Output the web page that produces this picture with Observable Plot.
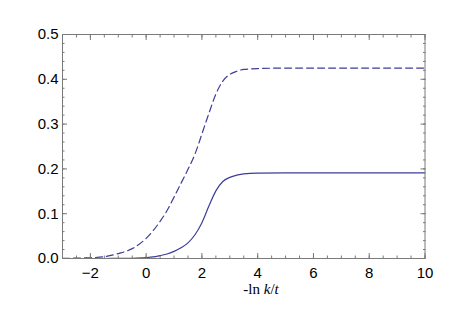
<!DOCTYPE html>
<html>
<head>
<meta charset="utf-8">
<script src="https://cdn.jsdelivr.net/npm/d3@7"></script>
<script src="https://cdn.jsdelivr.net/npm/@observablehq/plot@0.6"></script>
<style>
  html, body { margin: 0; padding: 0; background: #fff; }
  svg { display: block; }
</style>
</head>
<body>
<div id="chart"></div>
<script>
const xs      = [-3, -2.5, -2, -1.5, -1, -0.5, 0, 0.25, 0.5, 0.75, 1, 1.25, 1.5, 1.75, 2, 2.25, 2.5, 2.75, 3, 3.25, 3.5, 4, 5, 6, 7, 8, 9, 10];
const dashed  = [0.0003, 0.0008, 0.0017, 0.004, 0.011, 0.022, 0.045, 0.062, 0.083, 0.107, 0.137, 0.168, 0.199, 0.233, 0.278, 0.324, 0.367, 0.396, 0.411, 0.418, 0.422, 0.424, 0.425, 0.425, 0.425, 0.425, 0.425, 0.425];
const solid   = [0, 0, 0, 0, 0.0002, 0.0006, 0.002, 0.0035, 0.0065, 0.010, 0.016, 0.024, 0.035, 0.053, 0.080, 0.117, 0.151, 0.172, 0.181, 0.186, 0.189, 0.1905, 0.191, 0.191, 0.191, 0.191, 0.191, 0.191];
const xMajor  = [-2, 0, 2, 4, 6, 8, 10];
const xMinor  = d3.range(-3, 10.01, 0.5);
const yMajor  = [0, 0.1, 0.2, 0.3, 0.4, 0.5];
const yMinor  = d3.range(0, 0.501, 0.02);
const xLabel  = ["-ln ", "k", "/", "t"];

const dashedData = xs.map((x, i) => ({x, y: dashed[i]}));
const solidData  = xs.map((x, i) => ({x, y: solid[i]}));

const gray = "#7a7a7a";
const blue = "#3d3d99";
const W = 463, H = 314;

const chart = Plot.plot({
  width: W, height: H,
  marginLeft: 62, marginRight: 38.5, marginTop: 34, marginBottom: 56,
  style: {fontFamily: "Liberation Sans, Arial, sans-serif", fontSize: "15px", background: "#fff", color: "#000"},
  x: {domain: [-3, 10]},
  y: {domain: [0, 0.5]},
  marks: [
    Plot.line(dashedData, {x: "x", y: "y", stroke: blue, strokeWidth: 1.2, strokeDasharray: "7,4", curve: "monotone-x"}),
    Plot.line(solidData, {x: "x", y: "y", stroke: blue, strokeWidth: 1.2, curve: "monotone-x"}),
    Plot.frame({stroke: gray, strokeWidth: 1}),
    // labels
    Plot.axisX(xMajor, {anchor: "bottom", tickSize: 0, tickPadding: 9, label: null, tickFormat: d3.format("d"), fill: "#000"}),
    Plot.axisY(yMajor, {anchor: "left", tickSize: 0, tickPadding: 4, label: null, tickFormat: d3.format(".1f"), fill: "#000"}),
    // inward ticks
    Plot.axisX(xMajor, {anchor: "bottom", tickSize: 5, dy: -5, text: null, label: null, stroke: gray}),
    Plot.axisX(xMinor, {anchor: "bottom", tickSize: 2.5, dy: -2.5, text: null, label: null, stroke: gray}),
    Plot.axisX(xMajor, {anchor: "top", tickSize: 5, dy: 5, text: null, label: null, stroke: gray}),
    Plot.axisX(xMinor, {anchor: "top", tickSize: 2.5, dy: 2.5, text: null, label: null, stroke: gray}),
    Plot.axisY(yMajor, {anchor: "left", tickSize: 5, dx: 5, text: null, label: null, stroke: gray}),
    Plot.axisY(yMinor, {anchor: "left", tickSize: 2.5, dx: 2.5, text: null, label: null, stroke: gray}),
    Plot.axisY(yMajor, {anchor: "right", tickSize: 5, dx: -5, text: null, label: null, stroke: gray}),
    Plot.axisY(yMinor, {anchor: "right", tickSize: 2.5, dx: -2.5, text: null, label: null, stroke: gray})
  ]
});

document.getElementById("chart").appendChild(chart);

// x-axis title with italic k and t (sits slightly right of the frame centre, as in the original)
const t = d3.select(chart).append("text")
  .attr("x", 261)
  .attr("y", 294)
  .attr("text-anchor", "middle")
  .attr("font-family", "Liberation Serif, Times New Roman, serif")
  .attr("font-size", 15)
  .attr("fill", "#000");
xLabel.forEach((s, i) => {
  t.append("tspan").text(s).attr("font-style", (s === "k" || s === "t") ? "italic" : "normal");
});
</script>
</body>
</html>
